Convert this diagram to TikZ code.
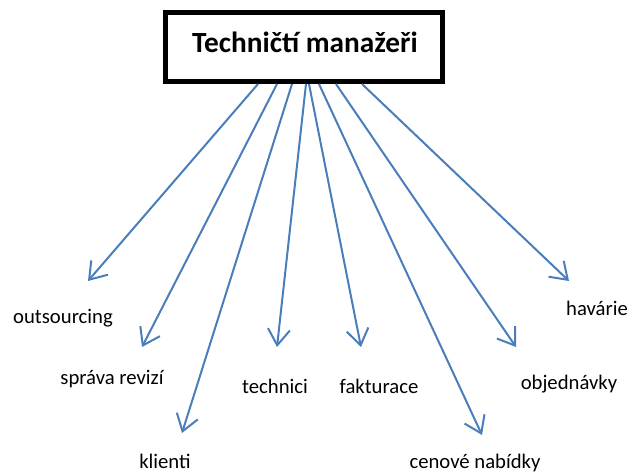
\documentclass[tikz,border=0pt]{standalone}
\usepackage{fontspec}
\setmainfont{Carlito}
\usetikzlibrary{arrows.meta}
\definecolor{linkblue}{HTML}{4A7EBB}
\tikzset{
  headbox/.style={draw=black, line width=5pt, minimum width=277pt, minimum height=69pt,
    inner sep=0pt},
  topic/.style={anchor=base, inner sep=0pt, font=\fontsize{20.7}{24}\selectfont},
  link/.style={draw=linkblue, line width=2pt, -{Straight Barb[length=16pt,width=22pt,line width=2pt]}}
}
\begin{document}
\begin{tikzpicture}[x=1pt,y=-1pt]
  \useasboundingbox (0,0) rectangle (629,473);
  % heading box
  \node[headbox] (head) at (304,47) {};
  \node[anchor=base, inner sep=0pt, font=\fontsize{29.3}{34}\selectfont\bfseries] (title) at (305,53) {Techničtí manažeři};

  % topics
  \node[topic] (outs) at (63,323) {outsourcing};
  \node[topic] (sprava) at (112,384) {správa revizí};
  \node[topic] (klienti) at (165,468) {klienti};
  \node[topic] (technici) at (275,393) {technici};
  \node[topic] (fakt) at (379,393) {fakturace};
  \node[topic] (cenove) at (475,468) {cenové nabídky};
  \node[topic] (objed) at (569,389) {objednávky};
  \node[topic] (havarie) at (597,315) {havárie};

  % arrow tips above the topics
  \coordinate (tOuts) at (88,281);
  \coordinate (tSprava) at (142,347);
  \coordinate (tKlienti) at (182,433);
  \coordinate (tTechnici) at (277,347);
  \coordinate (tFakt) at (361,347);
  \coordinate (tCenove) at (482,435);
  \coordinate (tObjed) at (516,347);
  \coordinate (tHavarie) at (569,281);

  % connectors from the heading box
  \draw[link] ([xshift=-46pt]head.south) -- (tOuts);
  \draw[link] ([xshift=-27pt]head.south) -- (tSprava);
  \draw[link] ([xshift=-12pt]head.south) -- (tKlienti);
  \draw[link] ([xshift=2pt]head.south) -- (tTechnici);
  \draw[link] ([xshift=5pt]head.south) -- (tFakt);
  \draw[link] ([xshift=15pt]head.south) -- (tCenove);
  \draw[link] ([xshift=32pt]head.south) -- (tObjed);
  \draw[link] ([xshift=58pt]head.south) -- (tHavarie);
\end{tikzpicture}
\end{document}
